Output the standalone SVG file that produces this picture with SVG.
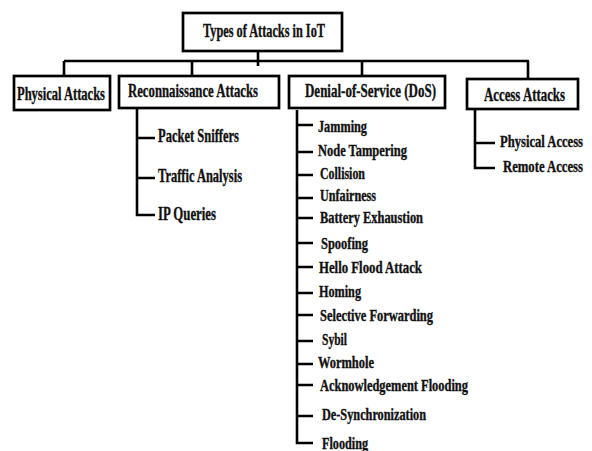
<svg xmlns="http://www.w3.org/2000/svg" width="592" height="451" viewBox="0 0 592 451">
<style>
.box{fill:#fff;stroke:#000;stroke-width:2.7}
.ln{fill:none;stroke:#000;stroke-width:2.6}
text{font-family:"Liberation Serif","Times New Roman",serif;font-weight:bold;fill:#111;stroke:#111;stroke-width:0.35}
.h{font-size:19px}
.r{font-size:18px}
.d{font-size:16px}
.a{font-size:17px}
</style>
<rect width="592" height="451" fill="#fff"/>
<g id="connectors">
<path class="ln" d="M258,51V66M64,61H529M64,61V76M192,61V76M362,61V76M528,61V79"/>
<path class="ln" d="M137,108V215H155M137,138H155M137,178H155"/>
<path class="ln" d="M297,110V443H313M297,125H313M297,152H313M297,175H313M297,198H313M297,218H313M297,243H313M297,267H313M297,293H313M297,315H313M297,341H313M297,364H313M297,385H313M297,416H313"/>
<path class="ln" d="M475,109V168H495M475,143H495"/>
</g>
<g id="root"><rect class="box" x="183" y="13" width="159" height="38"/><text class="h" transform="scale(0.7,1)" x="290" y="37" textLength="174.3" lengthAdjust="spacingAndGlyphs">Types of Attacks in IoT</text></g>
<g id="physical"><rect class="box" x="14" y="76" width="96" height="34"/><text class="h" transform="scale(0.7,1)" x="24.29" y="100" textLength="125.7" lengthAdjust="spacingAndGlyphs">Physical Attacks</text></g>
<g id="recon"><rect class="box" x="119" y="76" width="160" height="32"/><text class="h" transform="scale(0.7,1)" x="182.86" y="97" textLength="185.7" lengthAdjust="spacingAndGlyphs">Reconnaissance Attacks</text></g>
<g id="dos"><rect class="box" x="289" y="76" width="156" height="32"/><text class="h" transform="scale(0.7,1)" x="435.71" y="97" textLength="187.14" lengthAdjust="spacingAndGlyphs">Denial-of-Service (DoS)</text></g>
<g id="access"><rect class="box" x="467" y="79" width="111" height="30"/><text class="h" transform="scale(0.7,1)" x="691.43" y="101" textLength="115.71" lengthAdjust="spacingAndGlyphs">Access Attacks</text></g>
<g id="recon-items">
<text class="r" transform="scale(0.7,1)" x="225.71" y="142" textLength="115.71" lengthAdjust="spacingAndGlyphs">Packet Sniffers</text>
<text class="r" transform="scale(0.7,1)" x="225.71" y="182" textLength="120" lengthAdjust="spacingAndGlyphs">Traffic Analysis</text>
<text class="r" transform="scale(0.7,1)" x="225.71" y="220" textLength="82.86" lengthAdjust="spacingAndGlyphs">IP Queries</text>
</g>
<g id="dos-items">
<text class="d" transform="scale(0.7,1)" x="454.29" y="132" textLength="70" lengthAdjust="spacingAndGlyphs">Jamming</text>
<text class="d" transform="scale(0.7,1)" x="454.29" y="156" textLength="127.14" lengthAdjust="spacingAndGlyphs">Node Tampering</text>
<text class="d" transform="scale(0.7,1)" x="457.14" y="179" textLength="64.29" lengthAdjust="spacingAndGlyphs">Collision</text>
<text class="d" transform="scale(0.7,1)" x="457.14" y="201" textLength="80" lengthAdjust="spacingAndGlyphs">Unfairness</text>
<text class="d" transform="scale(0.7,1)" x="457.14" y="223" textLength="147.14" lengthAdjust="spacingAndGlyphs">Battery Exhaustion</text>
<text class="d" transform="scale(0.7,1)" x="458.57" y="249" textLength="67.14" lengthAdjust="spacingAndGlyphs">Spoofing</text>
<text class="d" transform="scale(0.7,1)" x="455.71" y="273" textLength="147.14" lengthAdjust="spacingAndGlyphs">Hello Flood Attack</text>
<text class="d" transform="scale(0.7,1)" x="455.71" y="297" textLength="60" lengthAdjust="spacingAndGlyphs">Homing</text>
<text class="d" transform="scale(0.7,1)" x="457.14" y="321" textLength="161.43" lengthAdjust="spacingAndGlyphs">Selective Forwarding</text>
<text class="d" transform="scale(0.7,1)" x="460" y="345" textLength="35.71" lengthAdjust="spacingAndGlyphs">Sybil</text>
<text class="d" transform="scale(0.7,1)" x="454.29" y="368" textLength="80" lengthAdjust="spacingAndGlyphs">Wormhole</text>
<text class="d" transform="scale(0.7,1)" x="457.14" y="391" textLength="211.43" lengthAdjust="spacingAndGlyphs">Acknowledgement Flooding</text>
<text class="d" transform="scale(0.7,1)" x="460" y="420" textLength="148.57" lengthAdjust="spacingAndGlyphs">De-Synchronization</text>
<text class="d" transform="scale(0.7,1)" x="460" y="449" textLength="65.71" lengthAdjust="spacingAndGlyphs">Flooding</text>
</g>
<g id="access-items">
<text class="a" transform="scale(0.7,1)" x="714.29" y="147" textLength="118.57" lengthAdjust="spacingAndGlyphs">Physical Access</text>
<text class="a" transform="scale(0.7,1)" x="718.57" y="172" textLength="114.29" lengthAdjust="spacingAndGlyphs">Remote Access</text>
</g>
</svg>
